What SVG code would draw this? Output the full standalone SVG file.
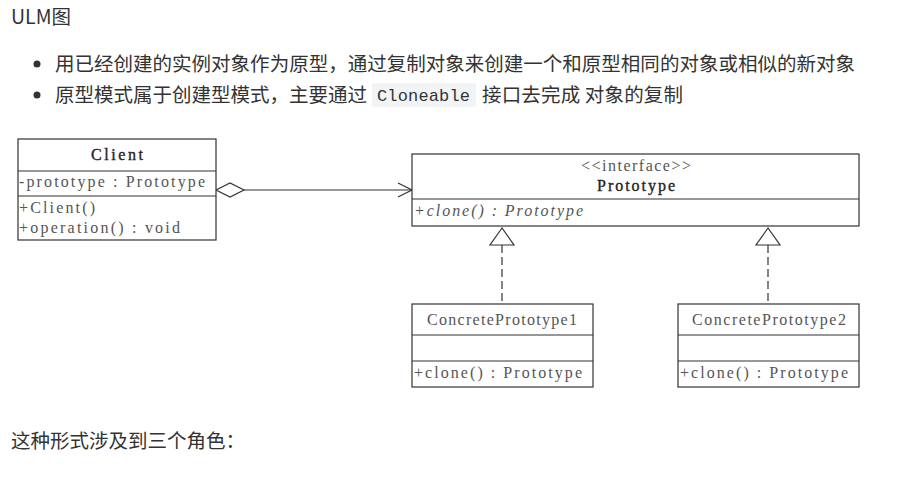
<svg xmlns="http://www.w3.org/2000/svg" width="911" height="481" viewBox="0 0 911 481">
<style>
.page{font-family:"Noto Sans CJK SC","Noto Sans",sans-serif;font-size:19.5px;fill:#333}
.code{font-family:"Liberation Mono","DejaVu Sans Mono",monospace;font-size:17px;fill:#333}
.box{fill:#fff;stroke:#333;stroke-width:1.2}
.sep{stroke:#333;stroke-width:1.2}
.u{font-family:"Liberation Serif","DejaVu Serif",serif;font-size:16px;fill:#555}
.ub{font-family:"Liberation Serif","DejaVu Serif",serif;font-size:16px;fill:#222;stroke:#222;stroke-width:0.35}
.ui{font-style:italic}
.line{stroke:#333;stroke-width:1.2;fill:none}
.dash{stroke:#333;stroke-width:1.2;fill:none;stroke-dasharray:8 4}
.head{fill:#fff;stroke:#333;stroke-width:1.2}
</style>
<rect width="911" height="481" fill="#fff"/>
<g id="intro">
<text class="page" x="11" y="24" font-size="18">ULM图</text>
<circle cx="37" cy="64" r="3.5" fill="#333"/>
<text class="page" x="55" y="71" textLength="800">用已经创建的实例对象作为原型，通过复制对象来创建一个和原型相同的对象或相似的新对象</text>
<circle cx="37" cy="95" r="3.5" fill="#333"/>
<text class="page" x="55" y="102" textLength="312">原型模式属于创建型模式，主要通过</text>
<rect x="372" y="83" width="104" height="24" rx="3" fill="#f2f3f4"/>
<text class="code" x="377" y="101" textLength="93">Cloneable</text>
<text class="page" x="482" y="102" textLength="201">接口去完成 对象的复制</text>
<text class="page" x="11" y="448">这种形式涉及到三个角色：</text>
</g>
<g id="connectors">
<line class="line" x1="244" y1="190" x2="412" y2="190"/>
<polygon class="head" points="216,190 230,183 244,190 230,197"/>
<polyline class="line" points="398,183 412,190 398,197"/>
<line class="dash" x1="502" y1="245" x2="502" y2="304"/>
<polygon class="head" points="502,228 490,245 514,245"/>
<line class="dash" x1="768" y1="245" x2="768" y2="304"/>
<polygon class="head" points="768,228 756,245 780,245"/>
</g>
<g id="client">
<rect class="box" x="18" y="139" width="198" height="101"/>
<line class="sep" x1="18" y1="171" x2="216" y2="171"/>
<line class="sep" x1="18" y1="196" x2="216" y2="196"/>
<text class="ub" x="117" y="160" text-anchor="middle" textLength="52">Client</text>
<text class="u" x="19" y="187" textLength="186">-prototype : Prototype</text>
<text class="u" x="19" y="213" textLength="76">+Client()</text>
<text class="u" x="19" y="233" textLength="161">+operation() : void</text>
</g>
<g id="prototype">
<rect class="box" x="412" y="154" width="447" height="72"/>
<line class="sep" x1="412" y1="199" x2="859" y2="199"/>
<text class="u" x="636" y="171" text-anchor="middle" textLength="110">&lt;&lt;interface&gt;&gt;</text>
<text class="ub" x="636" y="191" text-anchor="middle" textLength="78">Prototype</text>
<text class="u ui" x="414" y="216" textLength="169">+clone() : Prototype</text>
</g>
<g id="concrete1">
<rect class="box" x="412" y="304" width="181" height="83"/>
<line class="sep" x1="412" y1="335" x2="593" y2="335"/>
<line class="sep" x1="412" y1="361" x2="593" y2="361"/>
<text class="u" x="502" y="325" text-anchor="middle" textLength="150">ConcretePrototype1</text>
<text class="u" x="414" y="378" textLength="168">+clone() : Prototype</text>
</g>
<g id="concrete2">
<rect class="box" x="678" y="304" width="181" height="83"/>
<line class="sep" x1="678" y1="335" x2="859" y2="335"/>
<line class="sep" x1="678" y1="361" x2="859" y2="361"/>
<text class="u" x="769" y="325" text-anchor="middle" textLength="154">ConcretePrototype2</text>
<text class="u" x="680" y="378" textLength="168">+clone() : Prototype</text>
</g>
</svg>
